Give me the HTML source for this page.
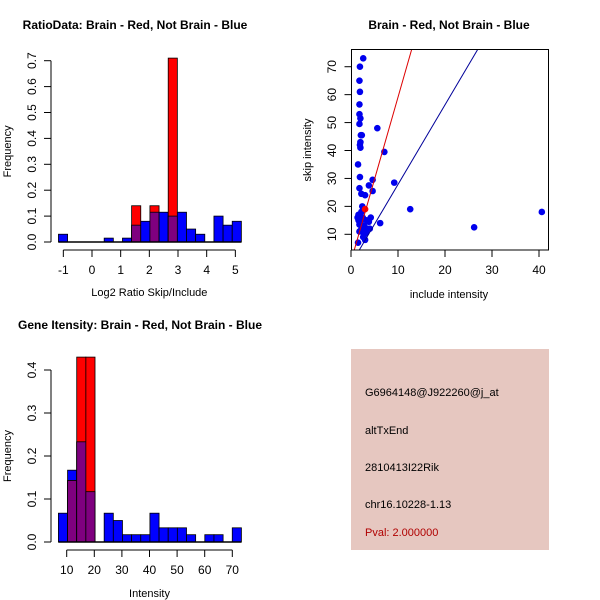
<!DOCTYPE html>
<html><head><meta charset="utf-8"><style>
body{margin:0;background:#fff}
svg{display:block;font-family:"Liberation Sans",sans-serif}
</style></head><body>
<svg id="s" width="600" height="600" viewBox="0 0 600 600">
<rect width="600" height="600" fill="#fff"/>
<text x="135" y="29" font-size="12" font-weight="bold" text-anchor="middle">RatioData: Brain - Red, Not Brain - Blue</text>
<text x="449" y="29" font-size="12" font-weight="bold" text-anchor="middle">Brain - Red, Not Brain - Blue</text>
<text x="140" y="329" font-size="12" font-weight="bold" text-anchor="middle">Gene Itensity: Brain - Red, Not Brain - Blue</text>
<g id="h1"></g>
<g id="h2"></g>
<g id="sc"></g>
<g>
<rect x="351" y="349" width="198" height="201" fill="#e6c7c0"/>
<text x="365" y="396" font-size="11">G6964148@J922260@j_at</text>
<text x="365" y="434" font-size="11">altTxEnd</text>
<text x="365" y="471" font-size="11">2810413I22Rik</text>
<text x="365" y="508" font-size="11">chr16.10228-1.13</text>
<text x="365" y="536" font-size="11" fill="#b00000">Pval: 2.000000</text>
</g>
</svg>
<script>
// Ratio histogram data
const ratioBinStart=-1.17, ratioBinWidth=0.319;
const ratioBlue=[0.03,0,0,0,0,0.015,0,0.015,0.065,0.08,0.115,0.115,0.1,0.115,0.05,0.03,0,0.1,0.065,0.08];
const ratioRed=[0,0,0,0,0,0,0,0,0.14,0,0.14,0,0.71,0,0,0,0,0,0,0];
const ratioXTicks=[-1,0,1,2,3,4,5];
const ratioYTicks=[0,0.1,0.2,0.3,0.4,0.5,0.6,0.7];
// Intensity histogram data
const intBinStart=7, intBinWidth=3.315;
const intBlue=[0.067,0.167,0.233,0.117,0,0.067,0.05,0.017,0.017,0.017,0.067,0.033,0.033,0.033,0.017,0,0.017,0.017,0,0.033];
const intRed=[0,0.143,0.43,0.43,0,0,0,0,0,0,0,0,0,0,0,0,0,0,0,0];
const intXTicks=[10,20,30,40,50,60,70];
const intYTicks=[0,0.1,0.2,0.3,0.4];
// Scatter data
const incl=[2.6,1.9,1.8,1.9,1.8,1.8,2,1.8,5.6,2.3,2.1,2,1.9,2,7.1,1.5,1.9,4.6,3.8,1.8,9.2,4.6,2.2,3,2.4,2.6,12.6,40.6,1.6,2,1.4,2.2,1.8,4.2,3.3,3.8,6.2,2.5,3.5,4,26.2,1.8,3,2.8,2.6,3,1.5,2.2,2,2.8,3.2,2.5,1.6,2.1];
const skip=[73,70,65,61,56.5,53,51.5,49.5,48,45.5,45.5,43,42,41,39.5,35,30.5,29.5,27.5,26.5,28.5,25.5,24.5,24,20,19,19,18,17,16.5,16,15,13.5,16,15,14.5,14,12.5,12,12,12.5,11,11,10,9,8,7,18,14,13,10.5,16,15,11.5];
const brainIncl=[3], brainSkip=[19];
const scXTicks=[0,10,20,30,40], scYTicks=[10,20,30,40,50,60,70];
const redLine=[0.28,5.88], blueLine=[-0.65,2.85];

const NS="http://www.w3.org/2000/svg";
function mk(p,t,a){const e=document.createElementNS(NS,t);for(const k in a)e.setAttribute(k,a[k]);p.appendChild(e);return e;}

function hist(g,cfg){
  const {x,y,start,w,blue,red,xt,yt,axisY,xl,yl,xlabY}=cfg;
  for(let i=0;i<blue.length;i++){
    const x0=x(start+i*w),x1=x(start+(i+1)*w);
    const b=blue[i],r=red[i],m=Math.min(b,r);
    if(b>0){const e=mk(g,'rect',{x:x0,y:y(b),width:x1-x0,height:y(0)-y(b),fill:'#0000ff',stroke:'#000','stroke-width':0.8});
      }
    if(r>0){const e=mk(g,'rect',{x:x0,y:y(r),width:x1-x0,height:y(0)-y(r),fill:'#ff0000',stroke:'#000','stroke-width':0.8});
      }
    if(m>0){const e=mk(g,'rect',{x:x0,y:y(m),width:x1-x0,height:y(0)-y(m),fill:'#7f007f',stroke:'#000','stroke-width':0.8});
      }
  }
  const bl=mk(g,'line',{x1:x(start),x2:x(start+blue.length*w),y1:y(0),y2:y(0),stroke:'#000','stroke-width':1.5});
  
  // x axis
  const xa=mk(g,'g',{});
  mk(xa,'line',{x1:x(xt[0]),x2:x(xt[xt.length-1]),y1:axisY,y2:axisY,stroke:'#000'});
  xt.forEach(v=>{mk(xa,'line',{x1:x(v),x2:x(v),y1:axisY,y2:axisY+7,stroke:'#000'});
    const t=mk(xa,'text',{x:x(v),y:axisY+24,'font-size':12,'text-anchor':'middle'});t.textContent=v;
    });
  const xt2=mk(g,'text',{x:(x(xt[0])+x(xt[xt.length-1]))/2,y:xlabY,'font-size':11,'text-anchor':'middle'});xt2.textContent=xl;
  
  // y axis
  const ya=mk(g,'g',{});
  const ax=51;
  mk(ya,'line',{x1:ax,x2:ax,y1:y(yt[0]),y2:y(yt[yt.length-1]),stroke:'#000'});
  yt.forEach(v=>{mk(ya,'line',{x1:ax,x2:ax-7,y1:y(v),y2:y(v),stroke:'#000'});
    const t=mk(ya,'text',{x:0,y:0,'font-size':12,'text-anchor':'middle',transform:`translate(36,${y(v)}) rotate(-90)`});t.textContent=v.toFixed(1);
    });
  const yt2=mk(g,'text',{x:0,y:0,'font-size':11,'text-anchor':'middle',transform:`translate(11,${(y(yt[0])+y(yt[yt.length-1]))/2}) rotate(-90)`});yt2.textContent=yl;
  
}
hist(document.getElementById('h1'),{x:v=>92+28.67*v,y:v=>242-259*v,start:ratioBinStart,w:ratioBinWidth,blue:ratioBlue,red:ratioRed,xt:ratioXTicks,yt:ratioYTicks,axisY:250,xl:'Log2 Ratio Skip/Include',yl:'Frequency',xlabY:296});
hist(document.getElementById('h2'),{x:v=>39.1+2.76*v,y:v=>542-430*v,start:intBinStart,w:intBinWidth,blue:intBlue,red:intRed,xt:intXTicks,yt:intYTicks,axisY:550,xl:'Intensity',yl:'Frequency',xlabY:597});

// scatter
(function(){
  const g=document.getElementById('sc');
  const X=v=>351+4.7*v, Y=v=>234.3-(v-10)*2.793;
  const cp=mk(g,'clipPath',{id:'cp'});mk(cp,'rect',{x:351.5,y:49.5,width:197,height:200.5});
  const pg=mk(g,'g',{'clip-path':'url(#cp)'});
  const xa=mk(g,'g',{});
  scXTicks.forEach(v=>{mk(xa,'line',{x1:X(v),x2:X(v),y1:250,y2:257,stroke:'#000'});
    const t=mk(xa,'text',{x:X(v),y:274,'font-size':12,'text-anchor':'middle'});t.textContent=v;
    });
  const ya=mk(g,'g',{});
  scYTicks.forEach(v=>{mk(ya,'line',{x1:351.5,x2:344.5,y1:Y(v),y2:Y(v),stroke:'#000'});
    const t=mk(ya,'text',{x:0,y:0,'font-size':12,'text-anchor':'middle',transform:`translate(336,${Y(v)}) rotate(-90)`});t.textContent=v;
    });
  const xt=mk(g,'text',{x:449,y:298,'font-size':11,'text-anchor':'middle'});xt.textContent='include intensity';
  
  const yt=mk(g,'text',{x:0,y:0,'font-size':11,'text-anchor':'middle',transform:'translate(311,150) rotate(-90)'});yt.textContent='skip intensity';
  
  for(let i=0;i<incl.length;i++){const c=mk(pg,'circle',{cx:X(incl[i]),cy:Y(skip[i]),r:3.3,fill:'#0000ee'});
    }
  for(let i=0;i<brainIncl.length;i++){const c=mk(pg,'circle',{cx:X(brainIncl[i]),cy:Y(brainSkip[i]),r:3.3,fill:'#ff0000'});
    }
  const l1=mk(pg,'line',{x1:X(0),y1:Y(redLine[0]),x2:X(15),y2:Y(redLine[0]+15*redLine[1]),stroke:'#dd0000','stroke-width':1});
  
  const l2=mk(pg,'line',{x1:X(0),y1:Y(blueLine[0]),x2:X(30),y2:Y(blueLine[0]+30*blueLine[1]),stroke:'#000099','stroke-width':1});
  
  const b=mk(g,'rect',{x:351.5,y:49.5,width:197,height:200.5,fill:'none',stroke:'#000'});
  
})();
</script>
</body></html>
